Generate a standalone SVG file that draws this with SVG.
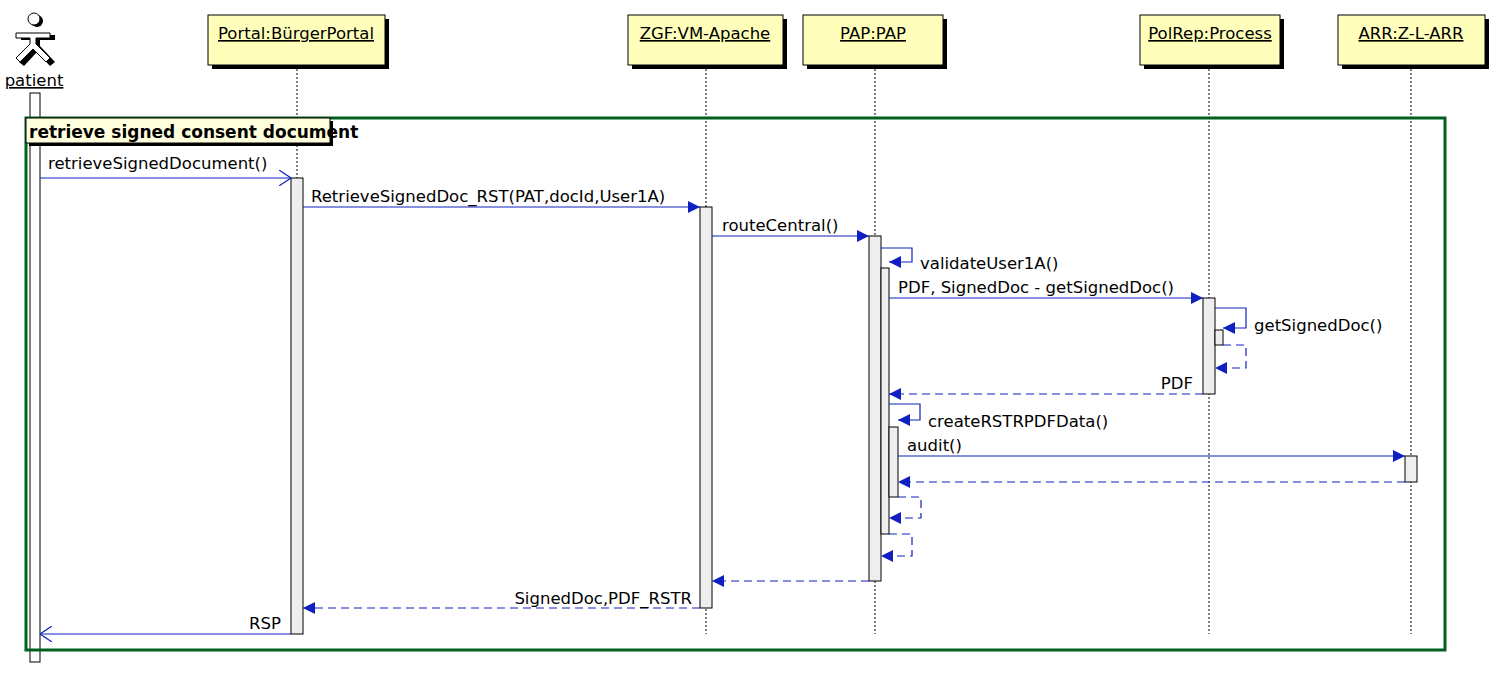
<svg xmlns="http://www.w3.org/2000/svg" width="1496" height="680" viewBox="0 0 1496 680">
<defs>
<style>
text{font-family:"DejaVu Sans","Liberation Sans",sans-serif;font-size:16.5px;fill:#000}
.hd{fill:#ffffbb;stroke:#000;stroke-width:1}
.sh{fill:#000}
.ll{stroke:#000;stroke-width:1;stroke-dasharray:2,2}
.act{fill:#eeeeee;stroke:#000;stroke-width:1}
.m{stroke:#1020c0;stroke-width:1.2;fill:none}
.d{stroke-dasharray:8,5}
</style>
<marker id="f" viewBox="0 0 12 12" refX="12" refY="6" markerWidth="12" markerHeight="12" markerUnits="userSpaceOnUse" orient="auto"><path d="M0,0 L12,6 L0,12 Z" fill="#1020c0"/></marker>
<marker id="o" viewBox="0 0 12 16" refX="12" refY="8" markerWidth="12" markerHeight="16" markerUnits="userSpaceOnUse" orient="auto"><path d="M0,0 L12,8 L0,16" fill="none" stroke="#1020c0" stroke-width="1.2"/></marker>
</defs>
<rect width="1496" height="680" fill="#fff"/>
<g id="lifelines">
<line class="ll" x1="297" y1="65" x2="297" y2="634"/>
<line class="ll" x1="706" y1="65" x2="706" y2="634"/>
<line class="ll" x1="875" y1="65" x2="875" y2="634"/>
<line class="ll" x1="1209" y1="65" x2="1209" y2="634"/>
<line class="ll" x1="1411" y1="65" x2="1411" y2="634"/>
</g>
<g id="patient">
<rect x="30" y="93" width="10" height="569" fill="#fff" stroke="#000"/>
<circle cx="37" cy="21" r="6" fill="#000"/>
<circle cx="34" cy="19" r="6" fill="#fff" stroke="#000"/>
<path d="M18,33 H52 V38 H37 V44 L52,60 L47,64 L34,50 L21,64 L16,60 L31,44 V38 H18 Z" fill="#000" transform="translate(3,2)"/>
<path d="M16,33 H50 V38 H36 V44 L50,58 L46,62 L33,49 L20,62 L16,58 L30,44 V38 H16 Z" fill="#fff" stroke="#000"/>
<text x="34" y="86" text-anchor="middle" text-decoration="underline">patient</text>
</g>
<g id="portal">
<rect class="sh" x="212" y="19" width="177" height="50"/>
<rect class="hd" x="208" y="15" width="177" height="50"/>
<text x="296" y="39" text-anchor="middle" text-decoration="underline">Portal:BürgerPortal</text>
<rect class="act" x="291" y="178" width="12" height="456"/>
</g>
<g id="zgf">
<rect class="sh" x="632" y="19" width="155" height="50"/>
<rect class="hd" x="628" y="15" width="155" height="50"/>
<text x="705" y="39" text-anchor="middle" text-decoration="underline">ZGF:VM-Apache</text>
<rect class="act" x="700" y="207" width="12" height="401"/>
</g>
<g id="pap">
<rect class="sh" x="807" y="19" width="140" height="50"/>
<rect class="hd" x="803" y="15" width="140" height="50"/>
<text x="873" y="39" text-anchor="middle" text-decoration="underline">PAP:PAP</text>
<rect class="act" x="869" y="236" width="12" height="345"/>
<rect class="act" x="881" y="268" width="8" height="266"/>
<rect class="act" x="889" y="427" width="9" height="70"/>
</g>
<g id="polrep">
<rect class="sh" x="1144" y="19" width="140" height="50"/>
<rect class="hd" x="1140" y="15" width="140" height="50"/>
<text x="1210" y="39" text-anchor="middle" text-decoration="underline">PolRep:Process</text>
<rect class="act" x="1203" y="298" width="12" height="96"/>
<rect class="act" x="1215" y="330" width="8" height="15"/>
</g>
<g id="arr">
<rect class="sh" x="1342" y="19" width="147" height="50"/>
<rect class="hd" x="1338" y="15" width="147" height="50"/>
<text x="1411" y="39" text-anchor="middle" text-decoration="underline">ARR:Z-L-ARR</text>
<rect class="act" x="1405" y="456" width="12" height="26"/>
</g>
<g id="frame">
<rect x="26" y="118" width="1419" height="532" fill="none" stroke="#006020" stroke-width="3"/>
<rect x="29" y="121" width="304" height="25" fill="#000"/>
<rect x="26" y="118" width="304" height="25" fill="#ffffdd" stroke="#000"/>
<text x="29" y="138" font-weight="bold" style="font-size:17px">retrieve signed consent document</text>
</g>
<g id="connectors">
<line class="m" x1="40" y1="178" x2="291" y2="178" marker-end="url(#o)"/>
<text x="48" y="169">retrieveSignedDocument()</text>
<line class="m" x1="303" y1="207" x2="700" y2="207" marker-end="url(#f)"/>
<text x="311" y="202">RetrieveSignedDoc_RST(PAT,docId,User1A)</text>
<line class="m" x1="712" y1="236" x2="869" y2="236" marker-end="url(#f)"/>
<text x="722" y="231">routeCentral()</text>
<path class="m" d="M881,248 H912 V262 H889" marker-end="url(#f)"/>
<text x="920" y="269">validateUser1A()</text>
<line class="m" x1="889" y1="298" x2="1203" y2="298" marker-end="url(#f)"/>
<text x="898" y="293">PDF, SignedDoc - getSignedDoc()</text>
<path class="m" d="M1215,308 H1246 V328 H1223" marker-end="url(#f)"/>
<text x="1254" y="331">getSignedDoc()</text>
<path class="m d" d="M1223,345 H1246 V368 H1215" marker-end="url(#f)"/>
<line class="m d" x1="1203" y1="394" x2="889" y2="394" marker-end="url(#f)"/>
<text x="1193" y="389" text-anchor="end">PDF</text>
<path class="m" d="M889,404 H920 V420 H898" marker-end="url(#f)"/>
<text x="928" y="427">createRSTRPDFData()</text>
<line class="m" x1="898" y1="456" x2="1405" y2="456" marker-end="url(#f)"/>
<text x="907" y="451">audit()</text>
<line class="m d" x1="1405" y1="482" x2="898" y2="482" marker-end="url(#f)"/>
<path class="m d" d="M898,497 H921 V518 H889" marker-end="url(#f)"/>
<path class="m d" d="M889,534 H912 V556 H881" marker-end="url(#f)"/>
<line class="m d" x1="869" y1="581" x2="712" y2="581" marker-end="url(#f)"/>
<line class="m d" x1="700" y1="608" x2="303" y2="608" marker-end="url(#f)"/>
<text x="692" y="604" text-anchor="end">SignedDoc,PDF_RSTR</text>
<line class="m" x1="291" y1="634" x2="40" y2="634" marker-end="url(#o)"/>
<text x="281" y="629" text-anchor="end">RSP</text>
</g>
</svg>
